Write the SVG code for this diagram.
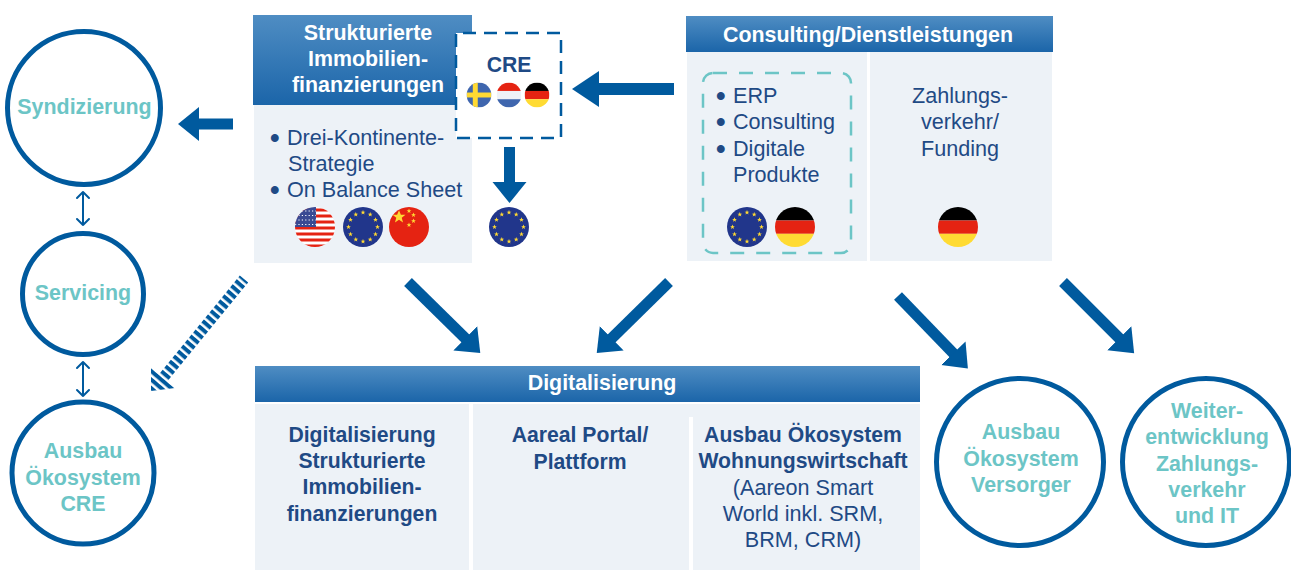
<svg xmlns="http://www.w3.org/2000/svg" width="1291" height="570" viewBox="0 0 1291 570">
<style>
text{font-family:"Liberation Sans",Arial,sans-serif;text-anchor:middle;font-size:21.600px;fill:#1f4a85}
.b{font-weight:700;font-size:21.200px}
.h{font-weight:700;font-size:21.400px;fill:#fff}
.l{text-anchor:start}
.d{stroke:#1f4a85;stroke-width:2}
.t{font-weight:700;font-size:21.400px;fill:#6cc5c6}
.panel{fill:#edf2f7}
.ring{fill:#fff;stroke:#005a9e;stroke-width:5}
.arr{fill:none;stroke:#005a9e;stroke-width:11;marker-end:url(#head)}
.arr2{fill:none;stroke:#005a9e;stroke-width:12;marker-end:url(#headl)}
.dbl{fill:none;stroke:#005a9e;stroke-width:2;stroke-linecap:round;stroke-linejoin:round}
</style>
<defs>
<linearGradient id="hg" x1="0" y1="0" x2="0" y2="1"><stop offset="0" stop-color="#4f8dc3"/><stop offset="1" stop-color="#1b65a9"/></linearGradient>
<marker id="head" markerUnits="userSpaceOnUse" markerWidth="24" markerHeight="36" refX="1" refY="17" orient="auto"><path d="M0 0L21 17L0 34Z" fill="#005a9e"/></marker>
<marker id="headl" markerUnits="userSpaceOnUse" markerWidth="30" markerHeight="40" refX="1" refY="18" orient="auto"><path d="M0 0L27 18L0 36Z" fill="#005a9e"/></marker>
<pattern id="hatch" width="6.500" height="6.500" patternUnits="userSpaceOnUse" patternTransform="rotate(40.500)"><rect width="6.500" height="4" fill="#005a9e"/></pattern>
<clipPath id="c"><circle r="20"/></clipPath>
<g id="star"><path d="M0-2.500L.7-.8L2.400-.8L1 .3L1.500 2L0 1L-1.500 2L-1 .3L-2.400-.8L-.7-.8Z" fill="#ffd933"/></g>
<g id="eu"><circle r="20" fill="#21368b"/>
<use href="#star" y="-14.500"/><use href="#star" x="7.200" y="-12.500"/><use href="#star" x="12.500" y="-7.200"/><use href="#star" x="14.500"/><use href="#star" x="12.500" y="7.200"/><use href="#star" x="7.200" y="12.500"/><use href="#star" y="14.500"/><use href="#star" x="-7.200" y="12.500"/><use href="#star" x="-12.500" y="7.200"/><use href="#star" x="-14.500"/><use href="#star" x="-12.500" y="-7.200"/><use href="#star" x="-7.200" y="-12.500"/></g>
<g id="de"><g clip-path="url(#c)"><rect x="-20" y="-20" width="40" height="13.500" fill="#000"/><rect x="-20" y="-6.500" width="40" height="13.300" fill="#e52312"/><rect x="-20" y="6.800" width="40" height="13.200" fill="#ffdb33"/></g></g>
<g id="nl"><g clip-path="url(#c)"><rect x="-20" y="-20" width="40" height="13.500" fill="#e52312"/><rect x="-20" y="-6.500" width="40" height="13.300" fill="#eef1f6"/><rect x="-20" y="6.800" width="40" height="13.200" fill="#3f66ae"/></g></g>
<g id="se"><g clip-path="url(#c)"><rect x="-20" y="-20" width="40" height="40" fill="#3f66ae"/><rect x="-10" y="-20" width="8" height="40" fill="#ffd933"/><rect x="-20" y="-4" width="40" height="8" fill="#ffd933"/></g></g>
<g id="us"><g clip-path="url(#c)"><rect x="-20" y="-20" width="40" height="40" fill="#fff"/><path d="M-20-17H20M-20-11H20M-20-5H20M-20 1H20M-20 7H20M-20 13H20M-20 19H20" stroke="#e52312" stroke-width="3"/><rect x="-20" y="-20" width="21" height="20" fill="#3a4a93"/><path d="M-20-16H1M-20-11.500H1M-20-7H1M-20-2.500H1" stroke="#fff" stroke-width="1.200" stroke-dasharray="1.200 2.200"/></g></g>
<g id="cn"><circle r="20" fill="#e52312"/><use href="#star" transform="translate(-10 -10) scale(2.700)"/><use href="#star" y="-16"/><use href="#star" x="4.500" y="-12"/><use href="#star" x="4.500" y="-6"/><use href="#star" y="-2"/></g>
</defs>

<g id="connectors">
<path class="arr" d="M233 124H198"/>
<path class="arr2" d="M674 89H598"/>
<path class="arr" d="M509.500 147V183"/>
<path class="arr" d="M408 282L466 339"/>
<path class="arr" d="M669 282L611 339"/>
<path class="arr" d="M898 296L954 354"/>
<path class="arr" d="M1063 282L1120 339"/>
<path class="dbl" d="M83 192V225M77 198L83 192L89 198M77 219L83 225L89 219"/>
<path class="dbl" d="M83 362V396M77 368L83 362L89 368M77 390L83 396L89 390"/>
<path d="M151 391L151 367L158.800 374.400L239.800 275.400L248.200 282.600L167.200 381.600L175 388Z" fill="url(#hatch)"/>
</g>

<g id="node-syndizierung"><circle class="ring" cx="84" cy="108" r="76.500"/><text class="t" x="84.500" y="114">Syndizierung</text></g>
<g id="node-servicing"><circle class="ring" cx="83" cy="294" r="60.500"/><text class="t" x="83" y="300">Servicing</text></g>
<g id="node-oekosystem-cre"><circle class="ring" cx="83" cy="473" r="71"/><text class="t" x="83" y="458">Ausbau</text><text class="t" x="83" y="485">Ökosystem</text><text class="t" x="83" y="511">CRE</text></g>
<g id="node-versorger"><circle class="ring" cx="1020" cy="462" r="83.500"/><text class="t" x="1021" y="439">Ausbau</text><text class="t" x="1021" y="466">Ökosystem</text><text class="t" x="1021" y="492">Versorger</text></g>
<g id="node-zahlungsverkehr-it"><circle class="ring" cx="1206" cy="462" r="83.500"/><text class="t" x="1207" y="418">Weiter-</text><text class="t" x="1207" y="444">entwicklung</text><text class="t" x="1207" y="471">Zahlungs-</text><text class="t" x="1207" y="497">verkehr</text><text class="t" x="1207" y="523">und IT</text></g>

<g id="node-strukturierte">
<rect x="253" y="15" width="219" height="90" fill="url(#hg)"/>
<rect class="panel" x="254" y="105" width="218" height="158"/>
<text class="h" x="368" y="40">Strukturierte</text><text class="h" x="368" y="66">Immobilien-</text><text class="h" x="368" y="92">finanzierungen</text>
<text class="l" x="271" y="145"><tspan class="d">•</tspan><tspan x="287">Drei-Kontinente-</tspan></text><text class="l" x="288" y="171">Strategie</text><text class="l" x="271" y="197"><tspan class="d">•</tspan><tspan x="287">On Balance Sheet</tspan></text>
<use href="#us" x="315" y="227"/><use href="#eu" x="363" y="227"/><use href="#cn" x="409" y="227"/>
</g>
<g id="node-cre">
<rect x="456" y="33" width="105" height="105" fill="#fff"/>
<rect x="456" y="33" width="105" height="105" fill="none" stroke="#005a9e" stroke-width="2.500" stroke-dasharray="13 8" stroke-dashoffset="-7"/>
<text class="b" x="509" y="72">CRE</text>
<use href="#se" transform="translate(479 95) scale(.62)"/><use href="#nl" transform="translate(509 95) scale(.62)"/><use href="#de" transform="translate(537 95) scale(.62)"/>
</g>
<g id="node-eu"><use href="#eu" x="509" y="227"/></g>
<g id="node-consulting">
<rect x="686" y="16" width="367" height="36" fill="url(#hg)"/>
<rect class="panel" x="687" y="52" width="180" height="209"/><rect class="panel" x="870" y="52" width="182" height="209"/>
<text class="h" x="868" y="42">Consulting/Dienstleistungen</text>
<rect x="703" y="73" width="148" height="180" rx="10" fill="none" stroke="#6cc5c6" stroke-width="2.500" stroke-dasharray="14 12"/>
<text class="l" x="717" y="103"><tspan class="d">•</tspan><tspan x="733">ERP</tspan></text>
<text class="l" x="717" y="129"><tspan class="d">•</tspan><tspan x="733">Consulting</tspan></text>
<text class="l" x="717" y="156"><tspan class="d">•</tspan><tspan x="733">Digitale</tspan></text><text class="l" x="733" y="182">Produkte</text>
<use href="#eu" x="747" y="227"/><use href="#de" x="795" y="227"/>
<text x="960" y="103">Zahlungs-</text><text x="960" y="129">verkehr/</text><text x="960" y="156">Funding</text>
<use href="#de" x="958" y="227"/>
</g>
<g id="node-digitalisierung">
<rect x="255" y="366" width="665" height="36" fill="url(#hg)"/>
<rect class="panel" x="255" y="404" width="214" height="166"/><rect class="panel" x="473" y="404" width="447" height="13"/><rect class="panel" x="473" y="416" width="216" height="154"/><rect class="panel" x="693" y="416" width="227" height="154"/>
<text class="h" x="602" y="390">Digitalisierung</text>
<text class="b" x="362" y="442">Digitalisierung</text><text class="b" x="362" y="468">Strukturierte</text><text class="b" x="362" y="494">Immobilien-</text><text class="b" x="362" y="521">finanzierungen</text>
<text class="b" x="580" y="442">Aareal Portal/</text><text class="b" x="580" y="469">Plattform</text>
<text class="b" x="803" y="442">Ausbau Ökosystem</text><text class="b" x="803" y="468">Wohnungswirtschaft</text><text x="803" y="495">(Aareon Smart</text><text x="803" y="521">World inkl. SRM,</text><text x="803" y="547">BRM, CRM)</text>
</g>
</svg>
